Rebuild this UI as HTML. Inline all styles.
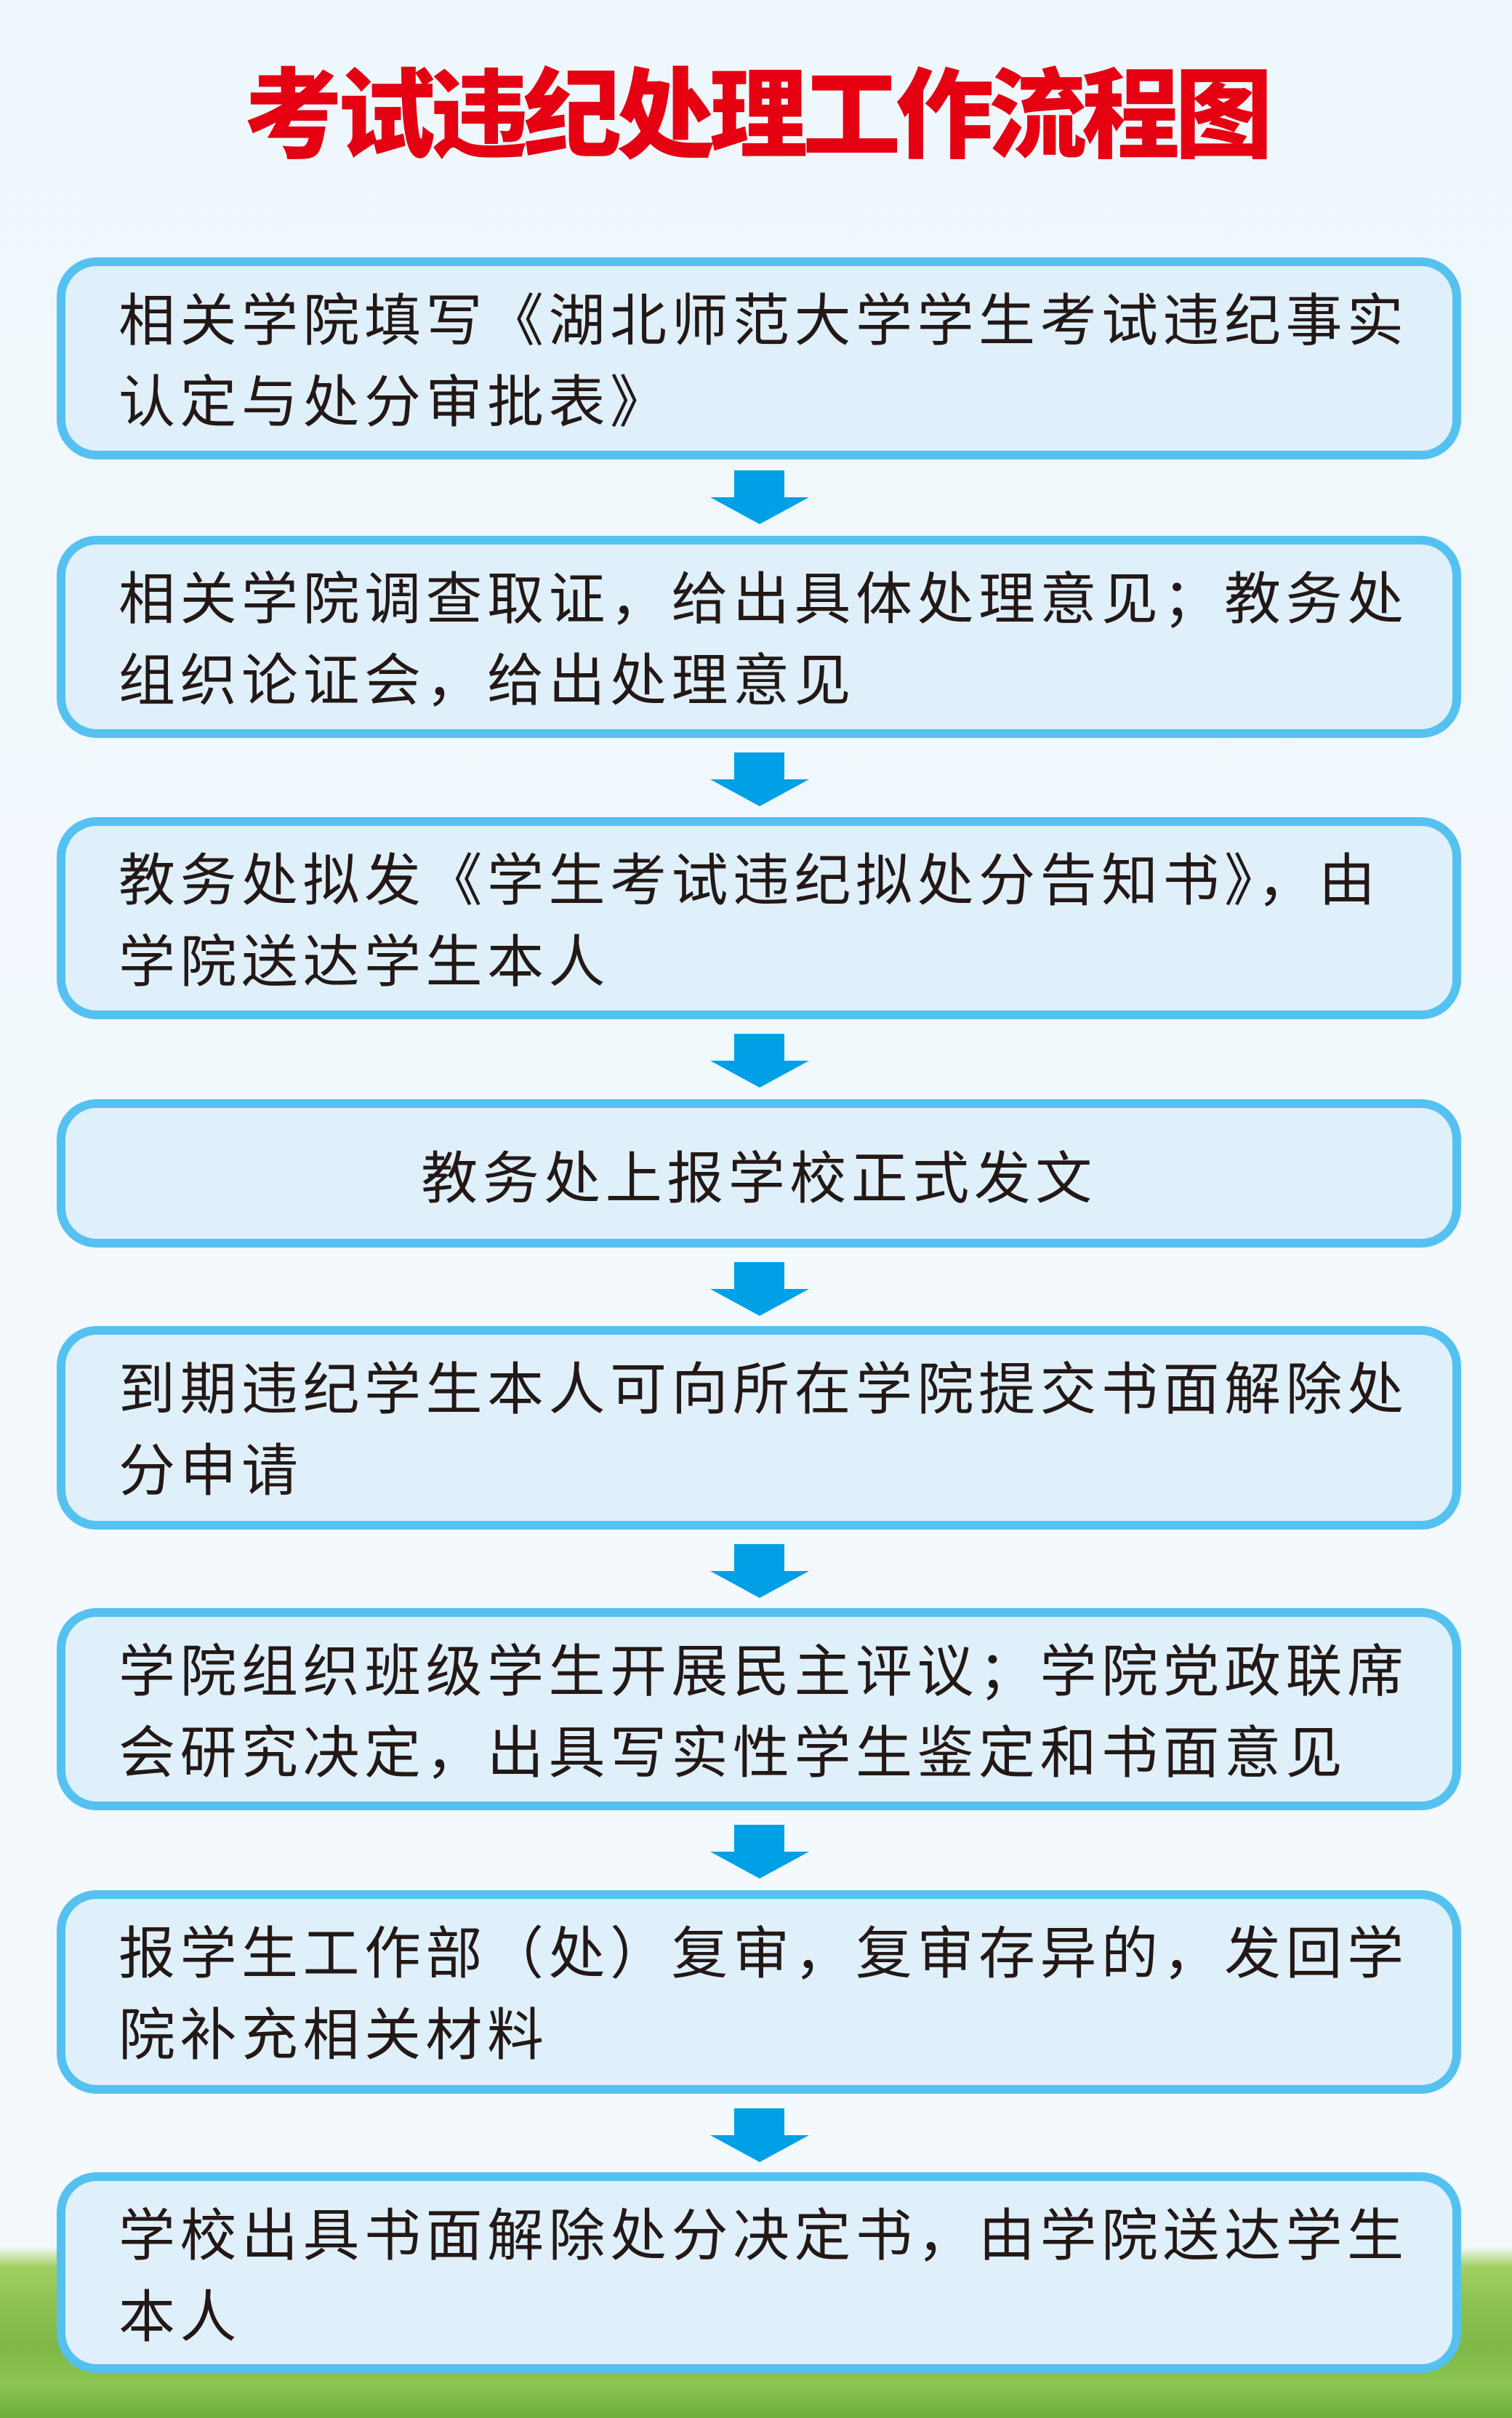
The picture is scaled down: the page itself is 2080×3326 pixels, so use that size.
<!DOCTYPE html>
<html><head><meta charset="utf-8"><style>
html,body{margin:0;padding:0}
body{width:2080px;height:3326px;position:relative;overflow:hidden;
background:linear-gradient(to bottom,#eef7fc 0%,#f3f9fd 50%,#f4f9fd 90%,#f4f9fd 100%);
font-family:"Liberation Sans","Noto Sans CJK SC",sans-serif;}
.grass{position:absolute;left:0;right:0;top:3090px;bottom:0;
background:linear-gradient(to bottom,rgba(150,200,90,0) 0%,#a2cf62 12%,#8cc152 35%,#7fb846 60%,#8cc552 80%,#6fae3a 100%);}
.title{position:absolute;left:0;width:2080px;top:62px;text-align:center;color:#e50012;
font-size:135px;font-weight:900;letter-spacing:-7px;line-height:170px;font-family:"Noto Sans CJK SC",sans-serif;}
.box{position:absolute;left:78px;width:1932px;border:12px solid #55c1f0;border-radius:55px;background:#dff0fb;box-sizing:border-box;}
.box .t{position:absolute;left:73px;right:20px;color:#231815;font-size:78px;line-height:112px;letter-spacing:6.5px;font-family:"Noto Sans CJK SC",sans-serif;white-space:nowrap;}
.arr{position:absolute;width:136px;height:74px;left:977px}
</style></head><body>
<div class="grass"></div>
<div class="title">考试违纪处理工作流程图</div>

<div class="box" style="top:354px;height:278px"><div class="t" style="top:13px">相关学院填写《湖北师范大学学生考试违纪事实<br>认定与处分审批表》</div></div>
<div class="box" style="top:737px;height:278px"><div class="t" style="top:13px">相关学院调查取证，给出具体处理意见；教务处<br>组织论证会，给出处理意见</div></div>
<div class="box" style="top:1124px;height:278px"><div class="t" style="top:13px">教务处拟发《学生考试违纪拟处分告知书》，由<br>学院送达学生本人</div></div>
<div class="box" style="top:1512px;height:204px"><div class="t" style="top:35px;left:0;right:0;text-align:center">教务处上报学校正式发文</div></div>
<div class="box" style="top:1824px;height:280px"><div class="t" style="top:13px">到期违纪学生本人可向所在学院提交书面解除处<br>分申请</div></div>
<div class="box" style="top:2212px;height:278px"><div class="t" style="top:13px">学院组织班级学生开展民主评议；学院党政联席<br>会研究决定，出具写实性学生鉴定和书面意见</div></div>
<div class="box" style="top:2600px;height:280px"><div class="t" style="top:13px">报学生工作部（处）复审，复审存异的，发回学<br>院补充相关材料</div></div>
<div class="box" style="top:2988px;height:276px"><div class="t" style="top:13px">学校出具书面解除处分决定书，由学院送达学生<br>本人</div></div>

<svg class="arr" style="top:647px" viewBox="0 0 136 74"><polygon points="33,0 102,0 102,37 136,37 68,74 0,37 33,37" fill="#00a0e6"/></svg>
<svg class="arr" style="top:1035px" viewBox="0 0 136 74"><polygon points="33,0 102,0 102,37 136,37 68,74 0,37 33,37" fill="#00a0e6"/></svg>
<svg class="arr" style="top:1422px" viewBox="0 0 136 74"><polygon points="33,0 102,0 102,37 136,37 68,74 0,37 33,37" fill="#00a0e6"/></svg>
<svg class="arr" style="top:1736px" viewBox="0 0 136 74"><polygon points="33,0 102,0 102,37 136,37 68,74 0,37 33,37" fill="#00a0e6"/></svg>
<svg class="arr" style="top:2124px" viewBox="0 0 136 74"><polygon points="33,0 102,0 102,37 136,37 68,74 0,37 33,37" fill="#00a0e6"/></svg>
<svg class="arr" style="top:2510px" viewBox="0 0 136 74"><polygon points="33,0 102,0 102,37 136,37 68,74 0,37 33,37" fill="#00a0e6"/></svg>
<svg class="arr" style="top:2900px" viewBox="0 0 136 74"><polygon points="33,0 102,0 102,37 136,37 68,74 0,37 33,37" fill="#00a0e6"/></svg>
</body></html>
